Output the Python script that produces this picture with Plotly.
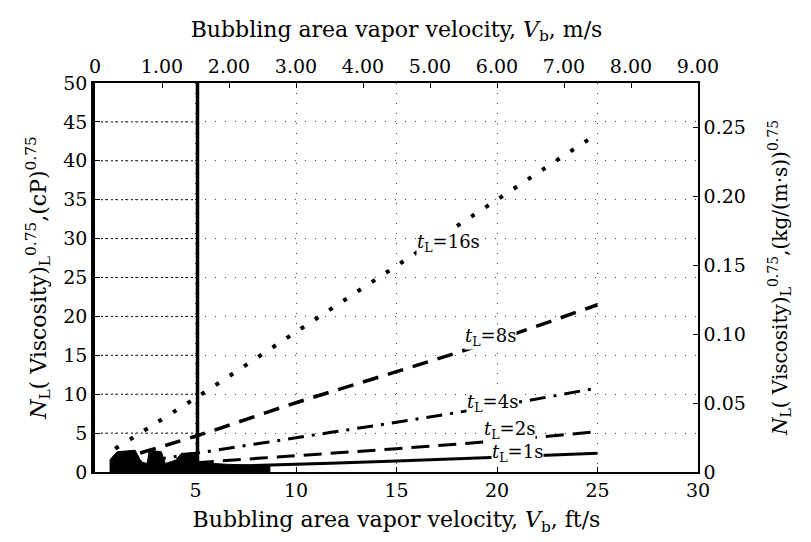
import plotly.graph_objects as go

# ---- data ----
x_ft = [1, 5, 10, 15, 20, 25]
y_16s = [3.0, 9.5, 18.0, 26.5, 35.0, 43.5]
y_8s = [1.5, 4.6, 8.9, 12.9, 17.0, 21.5]
y_4s = [0.8, 2.4, 4.4, 6.4, 8.5, 10.8]
y_2s = [0.5, 1.2, 2.1, 3.0, 4.0, 5.2]
y_1s = [0.3, 0.6, 1.0, 1.4, 1.9, 2.4]

curve_names = ["16s", "8s", "4s", "2s", "1s"]
label_x = [17.6, 19.7, 19.8, 20.6, 21.0]
label_y = [29.4, 17.4, 8.9, 5.4, 2.4]

vline_x = [5.1, 5.1]
vline_y = [0, 50]

blob_x = [0.75, 0.75, 1.1, 2.0, 2.3, 2.6, 2.7, 3.3, 3.5, 4.0, 4.3, 5.0, 5.2, 6.5, 8.7, 8.7]
blob_y = [0, 1.6, 2.6, 2.8, 1.3, 1.1, 2.8, 2.6, 1.1, 1.5, 2.4, 2.5, 1.2, 1.0, 0.8, 0]

bottom_ticks = [5, 10, 15, 20, 25, 30]
left_ticks = [0, 5, 10, 15, 20, 25, 30, 35, 40, 45, 50]
top_ticks = [0, 1, 2, 3, 4, 5, 6, 7, 8, 9]
top_labels = ["0", "1.00", "2.00", "3.00", "4.00", "5.00", "6.00", "7.00", "8.00", "9.00"]
right_ticks = [0, 0.05, 0.10, 0.15, 0.20, 0.25]
right_labels = ["0", "0.05", "0.10", "0.15", "0.20", "0.25"]

FONT = "DejaVu Serif"
TICK_SIZE = 19
TITLE_SIZE = 22
fig = go.Figure()

# dense dotted grid in the left strip
for yv in left_ticks[1:-1]:
    fig.add_trace(go.Scatter(x=[0.3, 5.0], y=[yv, yv], mode="lines",
                             line=dict(color="black", width=1, dash="2px,3px"),
                             showlegend=False, hoverinfo="skip"))

fig.add_trace(go.Scatter(x=blob_x, y=blob_y, fill="toself", fillcolor="black",
                         mode="lines", line=dict(color="black", width=1),
                         showlegend=False, hoverinfo="skip"))

styles = [
    dict(color="black", width=4, dash="4px,13px"),
    dict(color="black", width=3.5, dash="16px,10px"),
    dict(color="black", width=3, dash="16px,8px,3px,8px"),
    dict(color="black", width=3, dash="18px,9px"),
    dict(color="black", width=3, dash="solid"),
]
for ys, st, nm in zip([y_16s, y_8s, y_4s, y_2s, y_1s], styles, curve_names):
    fig.add_trace(go.Scatter(x=x_ft, y=ys, mode="lines", line=st, name=nm,
                             showlegend=False, line_shape="spline"))

fig.add_trace(go.Scatter(x=vline_x, y=vline_y, mode="lines",
                         line=dict(color="black", width=3.5), showlegend=False))

# secondary axes carriers
fig.add_trace(go.Scatter(x=[0, 9], y=[0, 0], xaxis="x2", yaxis="y", mode="lines",
                         line=dict(width=0), showlegend=False, hoverinfo="skip"))
fig.add_trace(go.Scatter(x=[0, 30], y=[0, 0.25], xaxis="x", yaxis="y2", mode="lines",
                         line=dict(width=0), showlegend=False, hoverinfo="skip"))

for nm, lx, ly in zip(curve_names, label_x, label_y):
    fig.add_annotation(x=lx, y=ly, text="<i>t</i><sub>L</sub>=" + nm, showarrow=False,
                       font=dict(family=FONT, size=18, color="black"),
                       bgcolor="white", borderpad=0)

axis_common = dict(showline=True, linecolor="black", ticks="inside", ticklen=5,
                   tickcolor="black", tickfont=dict(family=FONT, size=TICK_SIZE, color="black"),
                   zeroline=False, mirror=False)

fig.update_layout(
    width=811, height=542,
    margin=dict(l=95, r=113, t=83, b=70),
    paper_bgcolor="white", plot_bgcolor="white",
    font=dict(family=FONT, color="black"),
    xaxis=dict(range=[0, 30], tickvals=bottom_ticks, linewidth=2,
               showgrid=True, gridcolor="#444", griddash="1px,9px", gridwidth=1,
               title=dict(text="Bubbling area vapor velocity, <i>V</i><sub>b</sub>, ft/s",
                          font=dict(family=FONT, size=TITLE_SIZE), standoff=12),
               **axis_common),
    xaxis2=dict(range=[0, 9], tickvals=top_ticks, ticktext=top_labels, overlaying="x",
                side="top", linewidth=2, showgrid=False,
                title=dict(text="Bubbling area vapor velocity, <i>V</i><sub>b</sub>, m/s",
                           font=dict(family=FONT, size=TITLE_SIZE), standoff=12),
                **axis_common),
    yaxis=dict(range=[0, 50], tickvals=left_ticks, linewidth=3.5,
               showgrid=True, gridcolor="#444", griddash="1px,9px", gridwidth=1,
               title=dict(text="<i>N</i><sub>L</sub>( Viscosity)<sub>L</sub><sup>0.75</sup>,(cP)<sup>0.75</sup>",
                          font=dict(family=FONT, size=TITLE_SIZE), standoff=12),
               **axis_common),
    yaxis2=dict(range=[0, 0.2819], tickvals=right_ticks, ticktext=right_labels,
                overlaying="y", side="right", linewidth=1.5, showgrid=False,
                title=dict(text="<i>N</i><sub>L</sub>( Viscosity)<sub>L</sub><sup>0.75</sup>,(kg/(m·s))<sup>0.75</sup>",
                           font=dict(family=FONT, size=20), standoff=28),
                **axis_common),
)

fig.write_html("out.html")
